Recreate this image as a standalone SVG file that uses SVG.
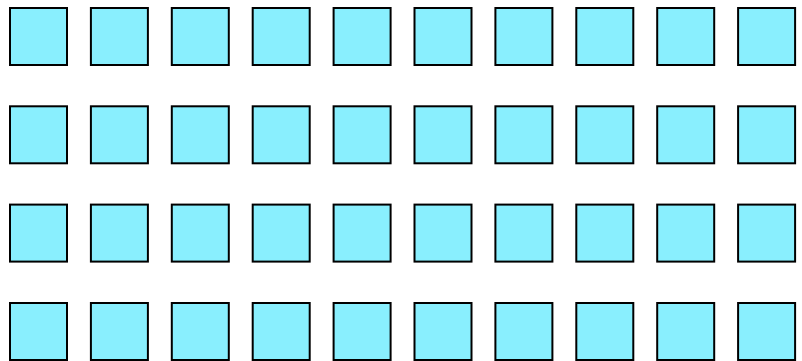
<svg xmlns="http://www.w3.org/2000/svg" width="802" height="361" viewBox="0 0 802 361">
<style>.b{fill:#89effe;stroke:#000;stroke-width:2}</style>
<defs><rect id="s" class="b" width="57" height="57"/></defs>
<rect width="802" height="361" fill="#fff"/>
<g id="row1">
<g id="n1_1"><use href="#s" x="10" y="8"/></g><g id="n1_2"><use href="#s" x="90.9" y="8"/></g><g id="n1_3"><use href="#s" x="171.8" y="8"/></g><g id="n1_4"><use href="#s" x="252.7" y="8"/></g><g id="n1_5"><use href="#s" x="333.6" y="8"/></g><g id="n1_6"><use href="#s" x="414.5" y="8"/></g><g id="n1_7"><use href="#s" x="495.4" y="8"/></g><g id="n1_8"><use href="#s" x="576.3" y="8"/></g><g id="n1_9"><use href="#s" x="657.2" y="8"/></g><g id="n1_10"><use href="#s" x="738.1" y="8"/></g>
</g>
<g id="row2">
<g id="n2_1"><use href="#s" x="10" y="106.3"/></g><g id="n2_2"><use href="#s" x="90.9" y="106.3"/></g><g id="n2_3"><use href="#s" x="171.8" y="106.3"/></g><g id="n2_4"><use href="#s" x="252.7" y="106.3"/></g><g id="n2_5"><use href="#s" x="333.6" y="106.3"/></g><g id="n2_6"><use href="#s" x="414.5" y="106.3"/></g><g id="n2_7"><use href="#s" x="495.4" y="106.3"/></g><g id="n2_8"><use href="#s" x="576.3" y="106.3"/></g><g id="n2_9"><use href="#s" x="657.2" y="106.3"/></g><g id="n2_10"><use href="#s" x="738.1" y="106.3"/></g>
</g>
<g id="row3">
<g id="n3_1"><use href="#s" x="10" y="204.6"/></g><g id="n3_2"><use href="#s" x="90.9" y="204.6"/></g><g id="n3_3"><use href="#s" x="171.8" y="204.6"/></g><g id="n3_4"><use href="#s" x="252.7" y="204.6"/></g><g id="n3_5"><use href="#s" x="333.6" y="204.6"/></g><g id="n3_6"><use href="#s" x="414.5" y="204.6"/></g><g id="n3_7"><use href="#s" x="495.4" y="204.6"/></g><g id="n3_8"><use href="#s" x="576.3" y="204.6"/></g><g id="n3_9"><use href="#s" x="657.2" y="204.6"/></g><g id="n3_10"><use href="#s" x="738.1" y="204.6"/></g>
</g>
<g id="row4">
<g id="n4_1"><use href="#s" x="10" y="303"/></g><g id="n4_2"><use href="#s" x="90.9" y="303"/></g><g id="n4_3"><use href="#s" x="171.8" y="303"/></g><g id="n4_4"><use href="#s" x="252.7" y="303"/></g><g id="n4_5"><use href="#s" x="333.6" y="303"/></g><g id="n4_6"><use href="#s" x="414.5" y="303"/></g><g id="n4_7"><use href="#s" x="495.4" y="303"/></g><g id="n4_8"><use href="#s" x="576.3" y="303"/></g><g id="n4_9"><use href="#s" x="657.2" y="303"/></g><g id="n4_10"><use href="#s" x="738.1" y="303"/></g>
</g>
<g id="connectors"/>
</svg>
